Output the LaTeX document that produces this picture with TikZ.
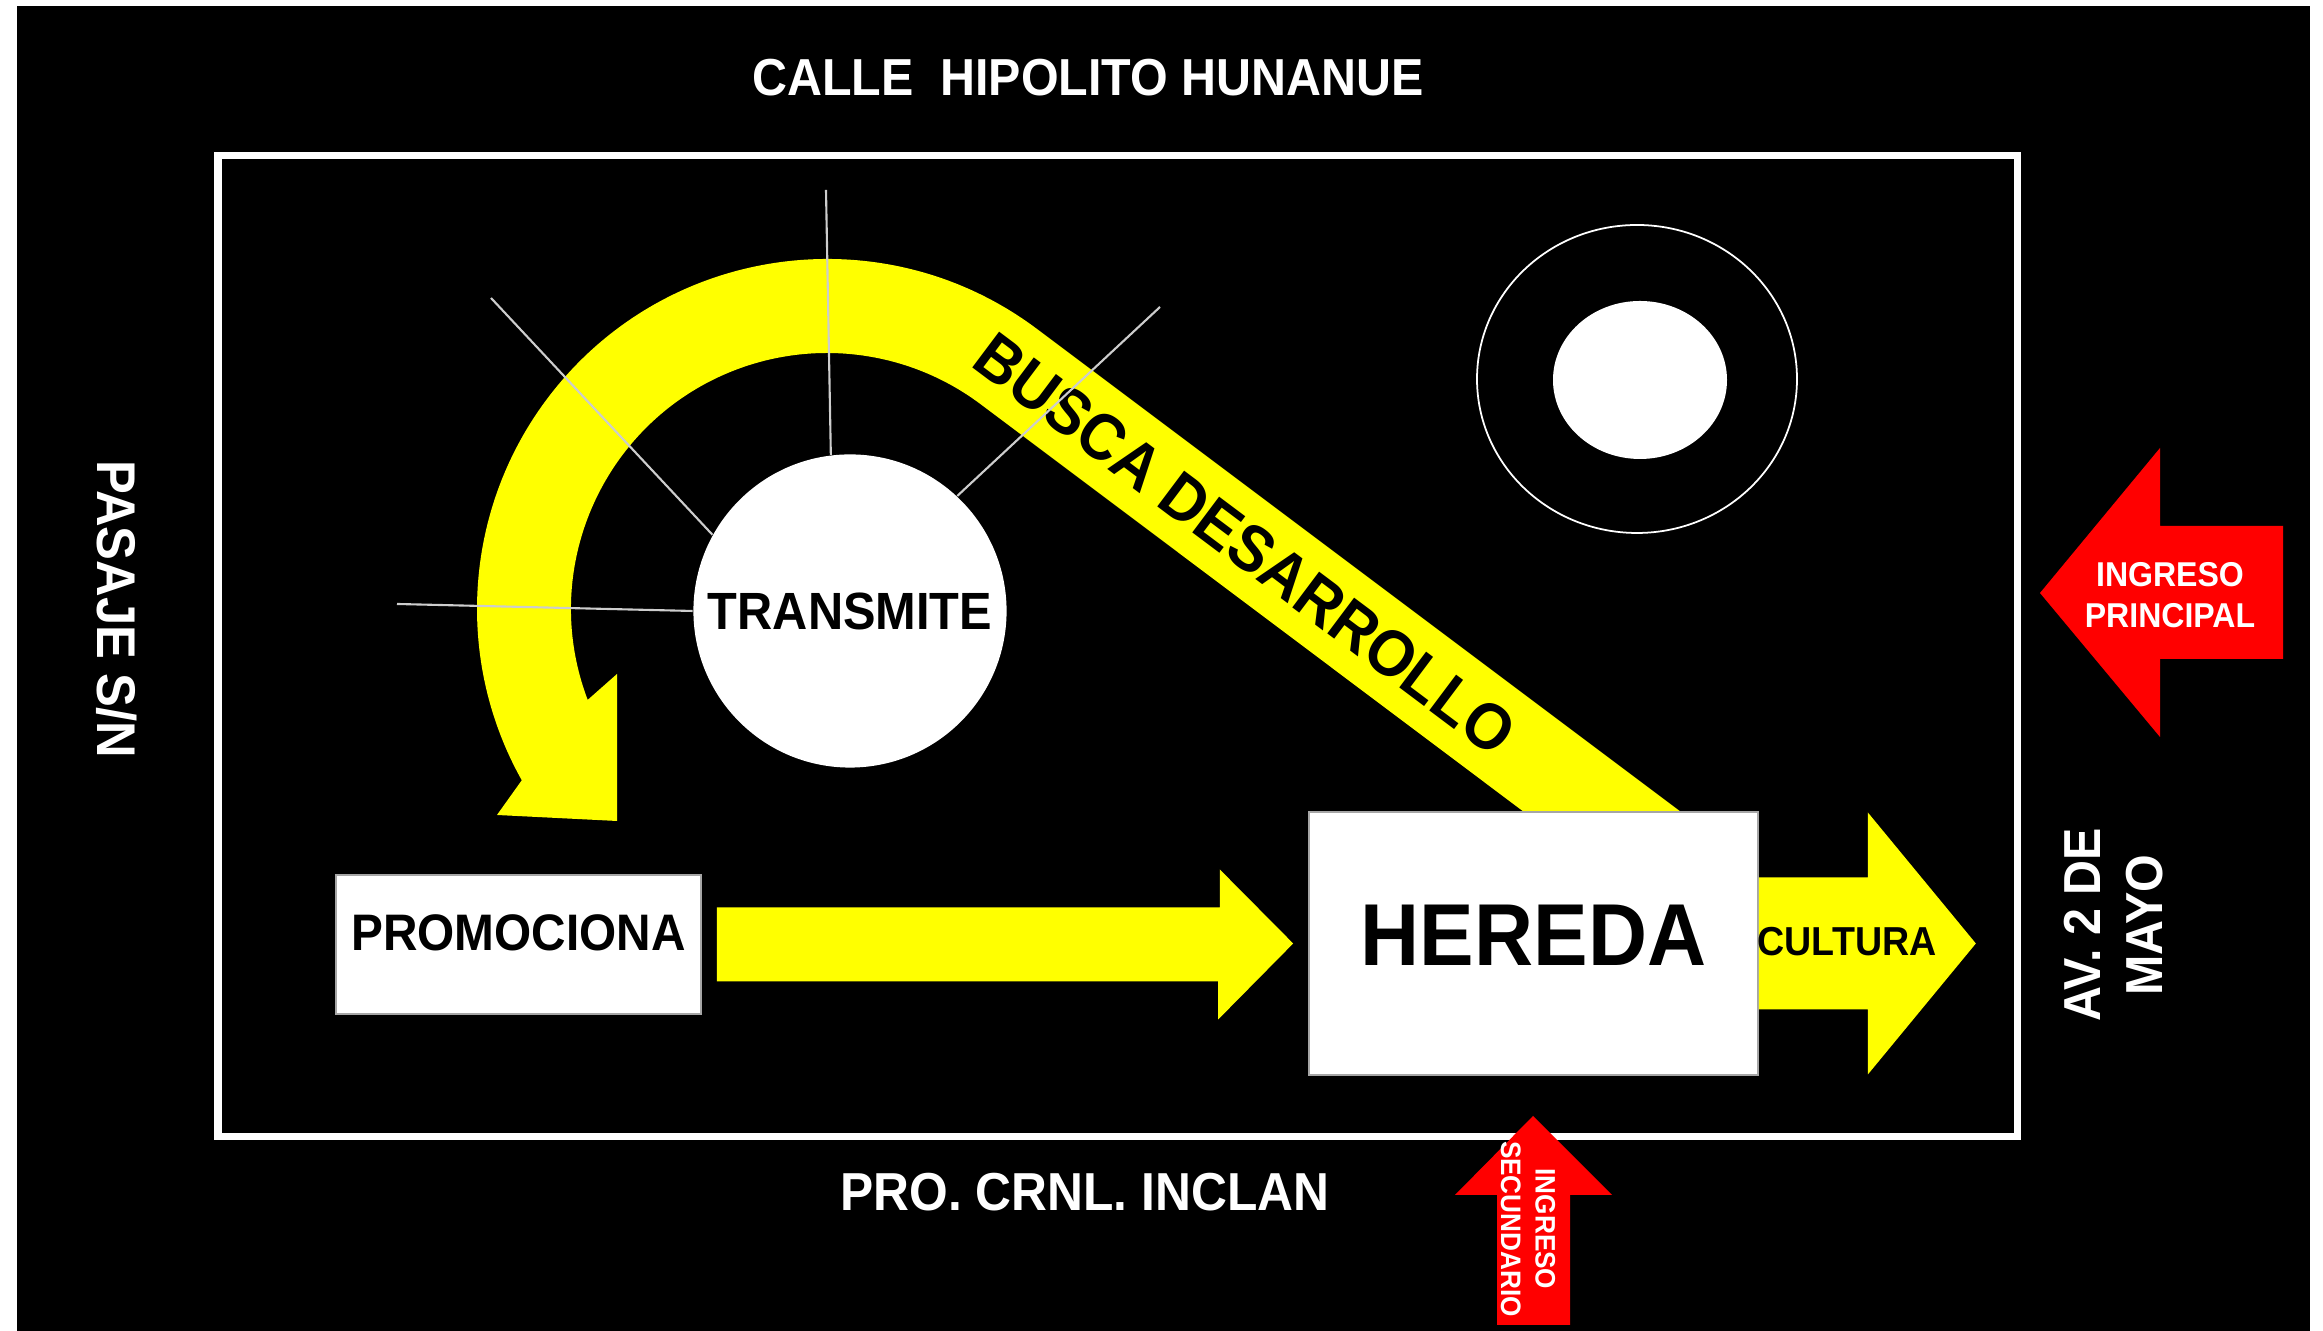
\documentclass[tikz,border=0pt]{standalone}
\usepackage{fontspec}
\setmainfont{Liberation Sans}[FakeStretch=0.93]
\usetikzlibrary{calc}
\definecolor{amarillo}{RGB}{255, 255, 0}
\definecolor{rojo}{RGB}{255, 0, 0}
\definecolor{gris}{RGB}{205, 205, 205}

\tikzset{
  calle/.style   = {text=white, align=center, font=\fontsize{14.8}{17.6}\selectfont\bfseries},
  caja/.style    = {draw=gray!70, line width=0.4pt, fill=white, inner sep=0pt},
  flecha/.style  = {fill=amarillo},
  ingreso/.style = {fill=rojo},
  rayo/.style    = {draw=gris, line width=0.6pt},
}

\begin{document}
\begin{tikzpicture}[x=0.01cm, y=0.01cm]
  \useasboundingbox (0,0) rectangle (2323,1331);
  \fill[white] (0,0) rectangle (2323,1331);
  \fill[black] (17,0) rectangle (2310,1325);
  \draw[white, line width=0.07cm] (218,194) rectangle (2017,1175);

  % flecha curva
  \coordinate (centro) at (827,722);
  \fill[flecha] (1721,489) -- ($(centro)+(53.13:350)$)
    arc[start angle=53.13, end angle=209.3, radius=350]
    -- (497,516) -- (617,510) -- (617,657)
    -- ($(centro)+(200.8:256)$)
    arc[start angle=200.8, end angle=53.13, radius=256]
    -- (1564,489) -- cycle;
  \node[rotate=-36.87, font=\fontsize{18.5}{21}\selectfont\bfseries]
    (busca) at (1245,787) {BUSCA DESARROLLO};

  \node[
    circle,
    fill          = white,
    minimum size  = 3.13cm,
    inner sep     = 0pt,
    font          = \fontsize{14.9}{17}\selectfont\bfseries
  ] (transmite) at (850,720) {TRANSMITE};

  \coordinate (rayoN)  at (826,1141);
  \coordinate (rayoNO) at (491,1033);
  \coordinate (rayoO)  at (397,727);
  \coordinate (rayoNE) at (1160,1024);
  \foreach \ang/\fin in {97/rayoN, 151/rayoNO, 180/rayoO, 47/rayoNE}
    \draw[rayo] (transmite.\ang) -- (\fin);

  \node[
    caja,
    minimum width  = 3.65cm,
    minimum height = 1.39cm,
    text depth     = 0.24cm,
    font           = \fontsize{14.6}{17}\selectfont\bfseries
  ] (promo) at (518.5,386.5) {PROMOCIONA};

  \node[
    caja,
    minimum width  = 4.49cm,
    minimum height = 2.63cm,
    text depth     = 0.17cm,
    font           = \fontsize{25}{29}\selectfont\bfseries
  ] (hereda) at (1533.5,387.5) {HEREDA};

  \fill[flecha] ($(promo.east)+(15,37)$) -- ++(503,0) -- ++(0,38)
    -- ($(hereda.west)+(-15,0)$) -- ++(-75,-76) -- ++(0,38)
    -- ($(promo.east)+(15,-37)$) -- cycle;
  \fill[flecha] ($(hereda.east)+(0,66)$) -- ++(109,0) -- ++(0,65)
    -- ($(hereda.east)+(217,0)$) -- ++(-108,-131) -- ++(0,65)
    -- ($(hereda.east)+(0,-66)$) -- cycle;
  \node[font=\fontsize{11.5}{13}\selectfont\bfseries] (cultura) at (1847,389) {CULTURA};

  % ingresos
  \fill[ingreso] (2040,738) -- (2160,883) -- (2160,805) -- (2283,805)
    -- (2283,672) -- (2160,672) -- (2160,594) -- cycle;
  \node[text=white, align=center, font=\fontsize{9.8}{11.8}\selectfont\bfseries]
    (principal) at (2170,736) {INGRESO\\PRINCIPAL};
  \fill[ingreso] (1533,215) -- (1612,136) -- (1570,136) -- (1570,6)
    -- (1497,6) -- (1497,136) -- (1455,136) -- cycle;
  \node[text=white, align=center, rotate=-90, font=\fontsize{8}{9.8}\selectfont\bfseries]
    (secundario) at (1528,102) {INGRESO\\SECUNDARIO};

  \draw[white, line width=0.5pt] (1637,952) ellipse [x radius=160, y radius=154];
  \fill[white] (1640,951) ellipse [x radius=87, y radius=79];

  \node[calle] (hipolito) at (1088,1253) {CALLE\ \ HIPOLITO HUNANUE};
  \node[calle, font=\fontsize{15.2}{18}\selectfont\bfseries] (inclan) at (1085,139) {PRO. CRNL. INCLAN};
  \node[calle, rotate=-90, font=\fontsize{15.5}{18}\selectfont\bfseries] (pasaje) at (117,722) {PASAJE S/N};
  \node[calle, rotate=90] (avenida) at (2114,406) {AV. 2 DE\\MAYO};
\end{tikzpicture}
\end{document}
